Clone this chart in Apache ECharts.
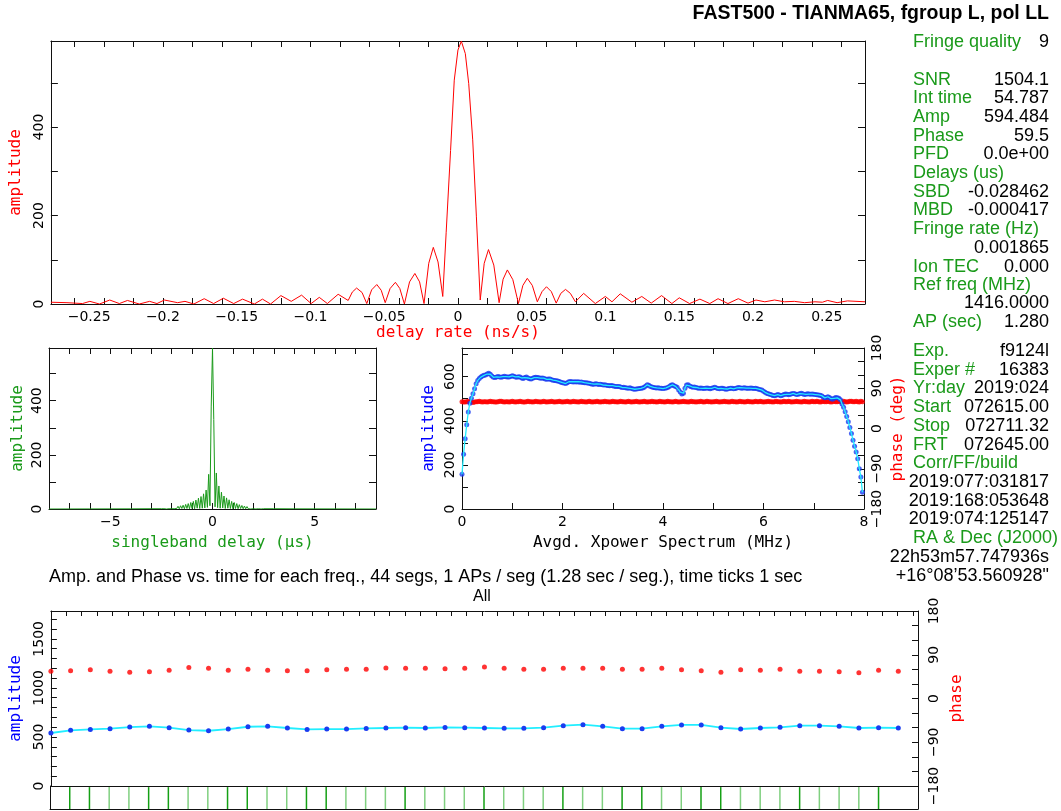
<!DOCTYPE html>
<html><head><meta charset="utf-8">
<script src="https://cdn.jsdelivr.net/npm/echarts@6/dist/echarts.min.js"></script>
<style>html,body{margin:0;padding:0;background:#fff}#c{width:1061px;height:811px}</style>
</head><body><div id="c"></div>
<script>
// ---------------- DATA ----------------
const rateX = [
 -0.2759,-0.265,-0.2545,-0.2495,-0.243,-0.236,-0.2295,-0.224,-0.216,-0.209,
 -0.204,-0.199,-0.19,-0.185,-0.179,-0.172,-0.1656,-0.159,-0.152,-0.146,
 -0.138,-0.1325,-0.127,-0.12,-0.113,-0.106,-0.0995,-0.094,-0.0885,-0.0812,
 -0.0744,-0.0716,-0.0687,-0.065,-0.0618,-0.0585,-0.055,-0.052,-0.0493,-0.046,
 -0.0424,-0.0394,-0.0363,-0.0328,-0.0292,-0.026,-0.023,-0.0198,-0.0167,-0.0135,
 -0.0103,-0.008,-0.005,-0.0025,0,0.0023,0.005,0.0073,0.01,0.0125,
 0.0151,0.0178,0.0207,0.0243,0.0279,0.0306,0.0335,0.0372,0.041,0.044,
 0.047,0.0504,0.0538,0.057,0.06,0.0633,0.0666,0.0697,0.0729,0.0762,
 0.0796,0.0852,0.0931,0.0999,0.1044,0.11,0.1179,0.1246,0.131,0.138,
 0.145,0.15,0.157,0.164,0.1707,0.1763,0.183,0.19,0.1966,0.202,
 0.208,0.2146,0.2213,0.228,0.235,0.242,0.247,0.2506,0.257,0.264,
 0.2759];
const rateAmp = [
 4,3,1,6,0,9,1,8,0,6,
 1,9,3,6,0,12,1,13,1,11,
 0,11,0,19,6,20,1,15,1,22,
 8,27,36,26,1,32,44,31,3,35,
 49,35,0,50,69,50,1,92,128,95,
 17,161,347,506,574,594,566,498,371,197,
 9,92,123,88,3,56,77,55,1,42,
 58,42,5,28,39,28,2,24,33,24,
 5,24,1,17,5,23,4,17,2,19,
 1,14,1,11,1,12,1,12,2,9,
 5,9,5,6,3,5,4,8,3,7,
 5];
const rateMax = 594.484, rateLim = 0.2759;
const rateLabels = [-0.25,-0.2,-0.15,-0.1,-0.05,0,0.05,0.1,0.15,0.2,0.25];
const rateTicks = [-0.26,-0.24,-0.22,-0.2,-0.18,-0.16,-0.14,-0.12,-0.1,-0.08,-0.06,-0.04,-0.02,0,
                   0.02,0.04,0.06,0.08,0.1,0.12,0.14,0.16,0.18,0.2,0.22,0.24,0.26];

// singleband delay function: lag grid from -2.5 us, 0.0625 us per lag
const sbdStart = -2.5, sbdStep = 0.0625;
const sbdAmp = [
 1,2,1,3,0,4,1,5,1,7,1,8,2,10,1,12,2,14,1,17,
 2,20,1,24,2,28,1,33,3,40,2,46,3,56,4,70,6,128,12,380,
 594,
 330,8,133,5,85,3,62,4,48,2,41,3,34,2,28,1,24,2,20,1,
 16,2,13,1,11,1,9,1,7,0,6,1,5,0,4,1,3,0,2,1];
const sbdTailL = [[-8,0],[-6,0.3],[-4,0.6],[-3,1]];
const sbdTailR = [[3,1],[4,0.6],[6,0.3],[8,0]];
const sbdLabels = [-5,0,5];
const sbdTicks = [-7,-6,-5,-4,-3,-2,-1,0,1,2,3,4,5,6,7];

// averaged cross-power spectrum, 256 channels of 0.03125 MHz
const xpStep = 0.03125;
const xpAmp = [
 157,248,318,382,440,480,502,522,545,568,583,592,598,603,606,608,
 612,615,611,603,597,596,599,601,598,597,600,602,600,598,599,601,
 604,602,599,597,600,598,594,592,596,598,594,591,590,593,596,597,
 596,595,593,594,593,590,588,590,589,586,584,583,582,580,578,575,
 573,571,569,573,577,578,577,576,577,576,577,575,576,574,573,572,
 571,570,568,566,566,568,567,565,566,564,562,563,561,560,559,560,
 559,557,556,555,556,553,551,552,550,549,548,550,546,544,543,544,
 545,546,547,549,552,558,563,561,556,553,551,550,549,550,548,547,
 546,547,549,551,556,561,563,559,556,552,540,530,521,525,548,562,
 563,558,554,552,553,551,549,548,549,547,546,548,549,547,545,547,
 550,552,549,546,545,547,548,545,543,544,546,548,547,545,546,549,
 551,550,548,549,550,548,547,548,549,547,546,547,545,543,541,539,
 534,529,525,522,520,518,515,514,516,519,517,514,516,519,521,520,
 518,520,522,524,522,519,520,523,525,522,519,520,522,521,520,521,
 520,519,518,517,516,514,508,504,506,509,505,500,498,502,506,504,
 502,495,476,461,441,419,396,370,342,312,285,259,228,183,145,76];
const xpPhase = [
 60,59,59,60,61,60,59,58,59,60,60,61,60,59,60,60,
 59,60,61,60,60,59,59,60,61,61,60,59,60,60,59,60,
 61,60,59,60,60,61,60,59,59,60,61,60,60,59,60,61,
 60,60,59,60,61,60,59,60,60,61,60,59,60,60,61,60,
 59,60,60,61,60,59,60,61,60,60,59,60,61,60,60,59,
 60,61,60,59,60,60,61,60,59,60,60,61,60,60,59,60,
 61,60,60,59,60,61,60,60,59,60,61,60,59,60,60,61,
 60,59,60,60,61,60,59,60,60,61,60,60,59,60,61,60,
 60,59,60,61,60,60,59,60,61,60,59,60,60,61,60,60,
 59,60,61,60,60,59,60,60,61,60,59,60,61,60,60,59,
 60,60,61,60,59,60,60,61,60,60,59,60,61,60,60,59,
 60,61,60,60,59,60,61,60,60,59,60,61,60,60,61,60,
 59,60,60,61,60,60,59,60,61,60,60,59,60,61,60,60,
 61,60,59,60,60,61,60,60,59,60,61,60,60,59,60,61,
 60,60,61,60,59,60,61,60,60,61,60,59,60,61,60,60,
 61,60,60,61,60,59,60,61,61,60,60,61,60,59,61,60];
const xpAmpMax = 730;
const xpXLabels = [0,2,4,6,8], xpXTicks = [1,2,3,4,5,6,7];

// amplitude / phase per segment (44 segs, 1.28 s each)
const segSec = 1.28;
const segAmp = [540,567,577,584,601,608,594,570,563,580,604,608,591,577,580,580,587,591,594,591,597,594,591,
                588,588,594,615,625,608,584,584,608,622,622,594,581,591,598,615,615,608,591,594,591];
const segPhase = [56,57,59,56,54,55,58,64,62,58,60,58,57,57,59,60,60,63,62,62,61,62,65,
                  62,60,60,62,62,62,60,60,62,59,57,54,59,58,60,56,56,55,53,58,56];
const segUSB = [1,1,0,0,1,1,0,0,1,1,0,0,1,1,0,0,0,1,0,0,0,1,0,0,0,1,0,0,1,1,0,0,1,1,0,0,0,1,0,0,0,1];
const segAmpMax = 1783.45, timeMax = 56.32;

const phaseTicks = [-150,-120,-90,-60,-30,0,30,60,90,120,150];
const phaseLabels = [-180,-90,0,90,180];

// text panel
const titleText = 'FAST500 - TIANMA65, fgroup L, pol LL';
const infoRows = [
 [42,'Fringe quality','9'],[80,'SNR','1504.1'],[98,'Int time','54.787'],[117,'Amp','594.484'],
 [136,'Phase','59.5'],[154,'PFD','0.0e+00'],[173,'Delays (us)',''],[192,'SBD','-0.028462'],
 [210,'MBD','-0.000417'],[229,'Fringe rate (Hz)',''],[248,'','0.001865'],[267,'Ion TEC','0.000'],
 [285,'Ref freq (MHz)',''],[303,'','1416.0000'],[322,'AP (sec)','1.280'],[351,'Exp.','f9124l'],
 [370,'Exper #','16383'],[388,'Yr:day','2019:024'],[407,'Start','072615.00'],[426,'Stop','072711.32'],
 [445,'FRT','072645.00'],[463,'Corr/FF/build',''],[482,'','2019:077:031817'],[501,'','2019:168:053648'],
 [519,'','2019:074:125147'],[538,'RA & Dec (J2000)',''],[557,'','22h53m57.747936s'],[576,'','+16\u00b008\u201953.560928"']];
const segTitle = 'Amp. and Phase vs. time for each freq., 44 segs, 1 APs / seg (1.28 sec / seg.), time ticks 1 sec';

// ---------------- BUILD ----------------
const range = (a,b,s) => { const r=[]; for(let v=a; v<=b+1e-9; v+=s) r.push(+v.toFixed(6)); return r; };
const TICK = '#111';
const fmt = v => String(+(+v).toFixed(4)).replace('-', '\u2212');
const tickFont = {color:'#000', fontFamily:'DejaVu Sans', fontSize:14};
const nameFont = c => ({color:c, fontFamily:'DejaVu Sans Mono', fontSize:16});
const xAxes = [], yAxes = [];
function addAxis(list, g, min, max, o, isY) {
  const ax = {
    type:'value', gridIndex:g, min:min, max:max, position:o.pos,
    axisLine:{show:true, onZero:false, lineStyle:{color:TICK, width:1}}, splitLine:{show:false},
    axisTick:{show:!!o.ticks, inside:true, length:o.len||6, lineStyle:{color:TICK,width:1}},
    axisLabel:Object.assign({show:!!o.labels, margin:o.margin==null?6:o.margin, formatter:fmt}, tickFont)
  };
  if (o.ticks) ax.axisTick.customValues = o.ticks;
  if (o.labels) ax.axisLabel.customValues = o.labels;
  if (isY) ax.axisLabel.rotate = 90;
  if (o.name) { ax.name = o.name; ax.nameLocation = 'middle'; ax.nameGap = o.gap; ax.nameTextStyle = nameFont(o.nameColor); }
  list.push(ax);
  return list.length-1;
}
const X = (g,min,max,o) => addAxis(xAxes,g,min,max,o,false);
const Y = (g,min,max,o) => addAxis(yAxes,g,min,max,o,true);

// grid 0: delay rate
const x0 = X(0,-rateLim,rateLim,{pos:'bottom',ticks:rateTicks,len:6,labels:rateLabels,margin:6,name:'delay rate (ns/s)',nameColor:'#ff0000',gap:20});
X(0,-rateLim,rateLim,{pos:'top',ticks:rateTicks,len:6});
const y0 = Y(0,0,rateMax,{pos:'left',ticks:[100,200,300,400,500],len:7,labels:[0,200,400],margin:5,name:'amplitude',nameColor:'#ff0000',gap:23});
Y(0,0,rateMax,{pos:'right',ticks:[100,200,300,400,500],len:7});
// grid 1: singleband delay
const x1 = X(1,-8,8,{pos:'bottom',ticks:sbdTicks,len:6,labels:sbdLabels,margin:6,name:'singleband delay (\u03bcs)',nameColor:'#1a9a1a',gap:26});
X(1,-8,8,{pos:'top',ticks:sbdTicks,len:6});
const y1 = Y(1,0,rateMax,{pos:'left',ticks:[100,200,300,400,500],len:7,labels:[0,200,400],margin:5,name:'amplitude',nameColor:'#1a9a1a',gap:23});
Y(1,0,rateMax,{pos:'right',ticks:[100,200,300,400,500],len:7});
// grid 2: xpower spectrum
const x2 = X(2,0,8,{pos:'bottom',ticks:xpXTicks,len:6,labels:xpXLabels,margin:6,name:'Avgd. Xpower Spectrum (MHz)',nameColor:'#000',gap:26});
X(2,0,8,{pos:'top',ticks:xpXTicks,len:6});
const y2a = Y(2,0,xpAmpMax,{pos:'left',ticks:[100,200,300,400,500,600,700],len:6,labels:[0,200,400,600],margin:5,name:'amplitude',nameColor:'#0000ff',gap:25});
const y2p = Y(2,-180,180,{pos:'right',ticks:phaseTicks,len:6,labels:phaseLabels,margin:6,name:'phase (deg)',nameColor:'#ff0000',gap:26});
// grid 3: amp & phase vs time
const x3 = X(3,0,timeMax,{pos:'bottom'});
X(3,0,timeMax,{pos:'top',ticks:range(1,56,1),len:5});
const y3a = Y(3,0,segAmpMax,{pos:'left',ticks:range(100,1700,100),len:6,labels:[0,500,1000,1500],margin:5,name:'amplitude',nameColor:'#0000ff',gap:23});
const y3p = Y(3,-180,180,{pos:'right',ticks:phaseTicks,len:6,labels:phaseLabels,margin:9,name:'phase',nameColor:'#ff0000',gap:30});
// grid 4: strip
const x4 = X(4,0,timeMax,{pos:'bottom'});
const y4 = Y(4,0,1.05,{pos:'left'});
Y(4,0,1.05,{pos:'right'});

const grids = [
  {left:49, top:41, width:816, height:263},
  {left:49, top:348, width:327, height:161},
  {left:462, top:348, width:402, height:161},
  {left:50, top:611, width:868, height:175},
  {left:50, top:786, width:868, height:23}
];

const sbdData = sbdTailL.concat(sbdAmp.map((v,i)=>[sbdStart+i*sbdStep, v]), sbdTailR);
const xpA = xpAmp.map((v,i)=>[i*xpStep, v]);
const xpP = xpPhase.map((v,i)=>[i*xpStep, v]);
const segA = segAmp.map((v,i)=>[i*segSec, v]);
const segP = segPhase.map((v,i)=>[i*segSec, v]);
const strip = segUSB.map((f,i)=>({value:[(i+1)*segSec, 1], itemStyle:{color: f ? '#14a014' : '#80d080'}}));

const series = [
  {type:'line', xAxisIndex:x0, yAxisIndex:y0, data:rateX.map((x,i)=>[x,rateAmp[i]]), showSymbol:false, lineStyle:{color:'#ff0000',width:1}, silent:true},
  {type:'line', xAxisIndex:x1, yAxisIndex:y1, data:sbdData, showSymbol:false, lineStyle:{color:'#1a9a1a',width:1}, silent:true},
  {type:'scatter', xAxisIndex:x2, yAxisIndex:y2p, data:xpP, symbolSize:5, itemStyle:{color:'#ff0000'}, silent:true},
  {type:'scatter', xAxisIndex:x2, yAxisIndex:y2a, data:xpA, symbolSize:5, itemStyle:{color:'#1a3cf0'}, silent:true},
  {type:'line', xAxisIndex:x2, yAxisIndex:y2a, data:xpA, showSymbol:false, lineStyle:{color:'#22eeff',width:1.3}, silent:true},
  {type:'scatter', xAxisIndex:x3, yAxisIndex:y3p, data:segP, symbolSize:5, itemStyle:{color:'#ff0000'}, silent:true},
  {type:'line', xAxisIndex:x3, yAxisIndex:y3a, data:segA, symbol:'circle', symbolSize:5, showSymbol:true,
   itemStyle:{color:'#1a3cf0'}, lineStyle:{color:'#22eeff',width:1.8}, silent:true},
  {type:'bar', xAxisIndex:x4, yAxisIndex:y4, data:strip, barWidth:1.5, silent:true}
];

const graphic = [
  {type:'text', style:{text:titleText, x:1049, y:14, align:'right', textAlign:'right', verticalAlign:'middle', textVerticalAlign:'middle', font:'bold 19.5px "Liberation Sans"', fill:'#000'}},
  {type:'text', style:{text:segTitle, x:49, y:577, align:'left', textAlign:'left', verticalAlign:'middle', textVerticalAlign:'middle', font:'18px "Liberation Sans"', fill:'#000'}},
  {type:'text', style:{text:'All', x:482, y:597, align:'center', textAlign:'center', verticalAlign:'middle', textVerticalAlign:'middle', font:'16px "Liberation Sans"', fill:'#000'}}
];
infoRows.forEach(r => {
  if (r[1]) graphic.push({type:'text', style:{text:r[1], x:913, y:r[0], align:'left', textAlign:'left', verticalAlign:'middle', textVerticalAlign:'middle', font:'18px "Liberation Sans"', fill:'#1a9a1a'}});
  if (r[2]) graphic.push({type:'text', style:{text:r[2], x:1049, y:r[0], align:'right', textAlign:'right', verticalAlign:'middle', textVerticalAlign:'middle', font:'18px "Liberation Sans"', fill:'#000'}});
});

const chart = echarts.init(document.getElementById('c'), null, {renderer:'canvas'});
chart.setOption({
  animation:false, backgroundColor:'#fff',
  grid:grids, xAxis:xAxes, yAxis:yAxes, series:series, graphic:graphic
});
</script></body></html>
